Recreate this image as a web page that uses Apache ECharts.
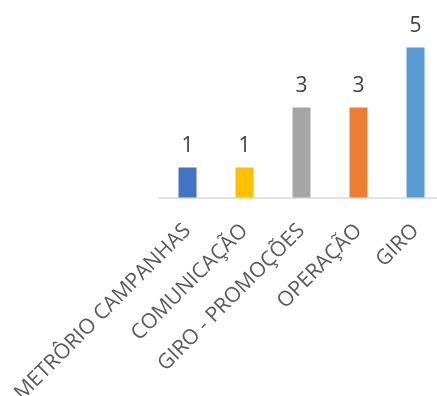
<!DOCTYPE html>
<html>
<head>
<meta charset="utf-8">
<script src="https://cdn.jsdelivr.net/npm/echarts@6/dist/echarts.min.js"></script>
<style>
  html, body { margin: 0; padding: 0; background: #fff; }
  #chart { width: 437px; height: 396px; }
</style>
</head>
<body>
<div id="chart"></div>
<script>
// Categories and their counts
const categories = ['METRÔRIO CAMPANHAS', 'COMUNICAÇÃO', 'GIRO - PROMOÇÕES', 'OPERAÇÃO', 'GIRO'];
const values = [1, 1, 3, 3, 5];
const barColors = ['#4472C4', '#FFC000', '#A5A5A5', '#ED7D31', '#5B9BD5'];

const chart = echarts.init(document.getElementById('chart'));
chart.setOption({
  animation: false,
  grid: {
    left: 159, top: 17.5, width: 285, height: 180,
    containLabel: false,
    outerBoundsMode: 'none'
  },
  xAxis: {
    type: 'category',
    data: categories,
    axisLine: { lineStyle: { color: '#D9D9D9', width: 1.5 } },
    axisTick: { show: false },
    axisLabel: {
      rotate: 45,
      interval: 0,
      margin: 30,
      color: '#595959',
      fontSize: 21,
      fontFamily: 'Open Sans'
    }
  },
  yAxis: {
    type: 'value',
    min: 0,
    max: 6,
    show: false
  },
  series: [{
    type: 'bar',
    barWidth: 18,
    data: values.map((v, i) => ({ value: v, itemStyle: { color: barColors[i] } })),
    label: {
      show: true,
      position: 'top',
      distance: 11,
      color: '#404040',
      fontSize: 21,
      fontFamily: 'Open Sans'
    }
  }]
});
</script>
</body>
</html>
